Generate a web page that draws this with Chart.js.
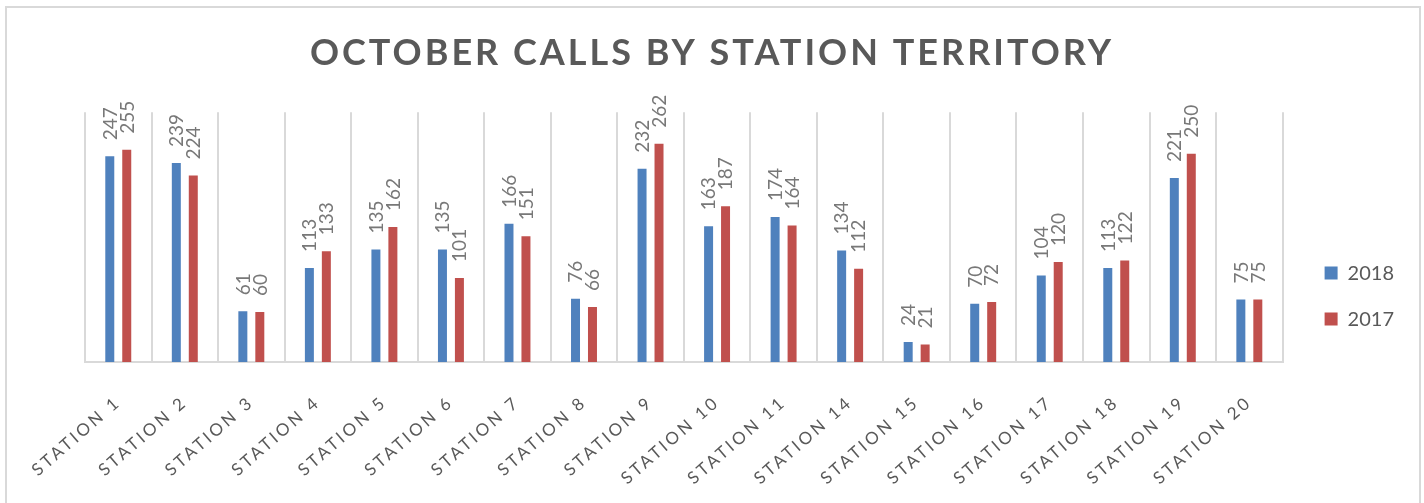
<!DOCTYPE html>
<html><head><meta charset="utf-8">
<script src="https://cdn.jsdelivr.net/npm/chart.js@4.4.1/dist/chart.umd.min.js"></script>
<style>
html,body{margin:0;padding:0;background:#fff;}
#wrap{position:relative;width:1424px;height:503px;overflow:hidden;}
#frame{position:absolute;left:5px;top:6px;width:1416px;height:520px;border:2px solid #d9d9d9;box-sizing:border-box;pointer-events:none;}
canvas{position:absolute;left:0;top:0;}
</style></head><body>
<div id="wrap"><canvas id="c" width="1424" height="503"></canvas><div id="frame"></div></div>
<script>
const chartTitle = 'OCTOBER CALLS BY STATION TERRITORY';
const categories = ['STATION 1','STATION 2','STATION 3','STATION 4','STATION 5','STATION 6','STATION 7','STATION 8','STATION 9','STATION 10','STATION 11','STATION 14','STATION 15','STATION 16','STATION 17','STATION 18','STATION 19','STATION 20'];
const seriesNames = ['2018', '2017'];
const values2018 = [247, 239, 61, 113, 135, 135, 166, 76, 232, 163, 174, 134, 24, 70, 104, 113, 221, 75];
const values2017 = [255, 224, 60, 133, 162, 101, 151, 66, 262, 187, 164, 112, 21, 72, 120, 122, 250, 75];
const yMin = 0;
const yMax = 300;

const blue = '#4F81BD';
const red = '#C0504D';

const dataLabelPlugin = {
  id: 'dataLabels',
  afterDatasetsDraw(chart) {
    const ctx = chart.ctx;
    chart.data.datasets.forEach((ds, di) => {
      const meta = chart.getDatasetMeta(di);
      meta.data.forEach((el, i) => {
        ctx.save();
        ctx.translate(el.x, el.y - 16);
        ctx.rotate(-Math.PI / 2);
        ctx.font = '19px Lato';
        ctx.fillStyle = '#787878';
        ctx.textAlign = 'left';
        ctx.textBaseline = 'alphabetic';
        ctx.fillText(String(ds.data[i]), 0, 6.8);
        ctx.restore();
      });
    });
  }
};

const spacingPlugin = {
  id: 'spacing',
  afterLayout(chart) {
    const t = chart.titleBlock;
    if (t) {
      if (!t._wrapped) {
        const o = t.draw.bind(t);
        t.draw = function () { const c = chart.ctx; c.save(); c.letterSpacing = '3px'; o(); c.restore(); };
        t._wrapped = true;
      }
      t.left = 6; t.right = 1418;
    }
    const x = chart.scales.x;
    if (x && !x._wrapped) {
      const o2 = x.drawLabels.bind(x);
      x.drawLabels = function (ca) { const c = chart.ctx; c.save(); c.letterSpacing = '3px'; o2(ca); c.restore(); };
      x._wrapped = true;
    }
  }
};

new Chart(document.getElementById('c'), {
  type: 'bar',
  data: {
    labels: categories,
    datasets: [
      { label: seriesNames[0], data: values2018, backgroundColor: blue, categoryPercentage: 0.51, barPercentage: 0.53 },
      { label: seriesNames[1], data: values2017, backgroundColor: red, categoryPercentage: 0.51, barPercentage: 0.53 }
    ]
  },
  options: {
    responsive: false,
    animation: false,
    layout: { padding: { left: 85, right: 20, top: 0, bottom: 0 } },
    plugins: {
      title: {
        display: true,
        text: chartTitle,
        color: '#595959',
        font: { family: 'Lato', size: 36, weight: 'bold' },
        padding: { top: 32, bottom: 37 }
      },
      legend: {
        position: 'right',
        align: 'center',
        title: { display: true, text: '', font: { size: 1 }, padding: { top: 88, bottom: 0 } },
        labels: {
          boxWidth: 13, boxHeight: 13, padding: 26,
          color: '#595959',
          font: { family: 'Lato', size: 20 }
        }
      },
      tooltip: { enabled: false }
    },
    scales: {
      x: {
        grid: { display: true, offset: true, color: '#d9d9d9', lineWidth: 2, drawTicks: false },
        border: { display: true, color: '#d9d9d9', width: 2 },
        ticks: {
          autoSkip: false, minRotation: 41, maxRotation: 41, padding: 30,
          color: '#595959', font: { family: 'Lato', size: 17 }
        },
        afterFit(s) { s.height = 141; }
      },
      y: {
        position: 'right',
        min: yMin, max: yMax,
        grid: { display: false },
        border: { display: false },
        ticks: { display: false },
        afterFit(s) { s.width = 16; }
      }
    }
  },
  plugins: [dataLabelPlugin, spacingPlugin]
});
</script>
</body></html>
